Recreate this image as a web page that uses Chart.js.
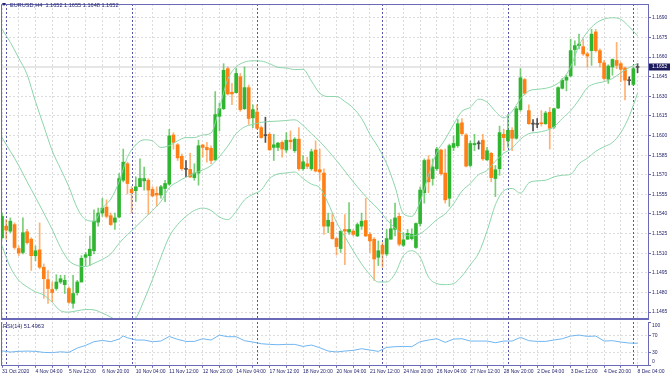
<!DOCTYPE html>
<html><head><meta charset="utf-8">
<script src="https://cdn.jsdelivr.net/npm/chart.js@4.4.1/dist/chart.umd.min.js"></script>
<style>
html,body{margin:0;padding:0;background:#fff;width:670px;height:376px;overflow:hidden;}
#wrap{position:relative;width:670px;height:376px;}
#c1{position:absolute;left:0;top:0;width:670px;height:322px;}
#c2{position:absolute;left:0;top:321px;width:670px;height:55px;}
.lbl{position:absolute;font-family:"Liberation Sans",Arial,sans-serif;font-size:5.6px;color:#24246e;white-space:pre;line-height:1;}
.tri{position:absolute;left:2px;top:3px;width:0;height:0;border-left:2px solid transparent;border-right:2px solid transparent;border-top:3px solid #24246e;}
</style></head><body>
<div id="wrap">
<canvas id="c1" width="670" height="322"></canvas>
<canvas id="c2" width="670" height="55"></canvas>
<div class="tri"></div>
<div class="lbl" id="hdr" style="left:10px;top:3px;"></div>
<div class="lbl" id="rsiHdr" style="left:3px;top:323.5px;"></div>
</div>
<script>
const symbol = "EURUSD,H4";
const xLabels = ["31 Oct 2020","4 Nov 04:00","5 Nov 12:00","6 Nov 20:00","10 Nov 04:00","11 Nov 12:00","12 Nov 20:00","14 Nov 04:00","17 Nov 12:00","18 Nov 20:00","20 Nov 04:00","21 Nov 12:00","24 Nov 20:00","26 Nov 04:00","27 Nov 12:00","28 Nov 20:00","2 Dec 04:00","3 Dec 12:00","4 Dec 20:00","8 Dec 04:00"];
const priceTicks = [1.1465,1.1480,1.1495,1.1510,1.1525,1.1540,1.1555,1.1570,1.1585,1.1600,1.1615,1.1630,1.1645,1.1660,1.1675,1.1690];
const rsiTicks = [0,30,70,100];
const rsiLevels = [30,70];
const separatorBars = [1,31,61,91,121,151];

const opens = [1.15219,1.15307,1.15269,1.15319,1.15136,1.15106,1.15264,1.15207,1.15081,1.15126,
1.14993,1.14898,1.14823,1.14830,1.14880,1.14860,1.14830,1.14717,1.14798,1.14880,
1.15069,1.15081,1.15119,1.15337,1.15407,1.15452,1.15387,1.15337,1.15377,1.15658,
1.15784,1.15588,1.15578,1.15608,1.15653,1.15658,1.15588,1.15558,1.15545,1.15595,
1.15628,1.16004,1.15929,1.15841,1.15746,1.15741,1.15678,1.15713,1.15927,1.15909,
1.15902,1.15814,1.16147,1.16205,1.16511,1.16331,1.16328,1.16449,1.16205,1.16366,
1.16135,1.16180,1.16060,1.15999,1.16009,1.15909,1.15909,1.15947,1.15889,1.15964,
1.15884,1.15972,1.15746,1.15784,1.15746,1.15889,1.15738,1.15713,1.15307,1.15337,
1.15212,1.15136,1.15282,1.15262,1.15269,1.15232,1.15307,1.15350,1.15244,1.15207,
1.15069,1.15161,1.15094,1.15207,1.15282,1.15382,1.15161,1.15207,1.15212,1.15144,
1.15327,1.15563,1.15814,1.15671,1.15746,1.15889,1.15713,1.15520,1.15909,1.15922,
1.16097,1.16004,1.15771,1.15929,1.15937,1.15964,1.15814,1.15864,1.15671,1.15746,
1.16009,1.15959,1.16040,1.15979,1.16198,1.16428,1.16190,1.16090,1.16085,1.16097,
1.16090,1.16178,1.16065,1.16210,1.16361,1.16423,1.16456,1.16657,1.16687,1.16679,
1.16624,1.16649,1.16792,1.16649,1.16556,1.16431,1.16524,1.16574,1.16549,1.16516,
1.16423,1.16391,1.1652];
const highs = [1.15407,1.15357,1.15370,1.15332,1.15156,1.15370,1.15282,1.15219,1.15156,1.15332,
1.15018,1.14968,1.14880,1.14936,1.14931,1.14931,1.14843,1.14931,1.14893,1.15081,
1.15106,1.15232,1.15432,1.15445,1.15520,1.15508,1.15407,1.15407,1.15708,1.15896,
1.15796,1.15608,1.15683,1.15821,1.15759,1.15671,1.15608,1.15608,1.15620,1.15658,
1.16047,1.16022,1.15939,1.15859,1.15809,1.15866,1.15784,1.15964,1.15934,1.15947,
1.15922,1.16336,1.16248,1.16549,1.16524,1.16398,1.16511,1.16474,1.16524,1.16386,
1.16235,1.16235,1.16072,1.16140,1.16022,1.16009,1.15947,1.15959,1.16022,1.16035,
1.15984,1.16060,1.15846,1.15834,1.15896,1.15959,1.15896,1.15746,1.15407,1.15407,
1.15219,1.15269,1.15395,1.15488,1.15282,1.15332,1.15407,1.15520,1.15257,1.15219,
1.15194,1.15181,1.15282,1.15357,1.15483,1.15407,1.15257,1.15282,1.15287,1.15332,
1.15608,1.15821,1.15846,1.15821,1.15909,1.15896,1.15896,1.15934,1.15997,1.16122,
1.16130,1.16014,1.15959,1.16009,1.15959,1.16009,1.15909,1.15871,1.15771,1.16072,
1.16047,1.16160,1.16060,1.16223,1.16511,1.16436,1.16235,1.16122,1.16130,1.16190,
1.16185,1.16215,1.16210,1.16373,1.16436,1.16461,1.16737,1.16724,1.16775,1.16737,
1.16637,1.16812,1.16812,1.16662,1.16574,1.16541,1.16586,1.16712,1.16561,1.16524,
1.16449,1.16524,1.1655];
const lows = [1.15207,1.15207,1.15257,1.15131,1.15081,1.15094,1.15169,1.14968,1.15043,1.14981,
1.14755,1.14717,1.14730,1.14817,1.14868,1.14792,1.14717,1.14680,1.14780,1.14880,
1.15006,1.15006,1.15094,1.15307,1.15382,1.15370,1.15312,1.15282,1.15370,1.15646,
1.15553,1.15407,1.15495,1.15608,1.15583,1.15395,1.15533,1.15458,1.15520,1.15495,
1.15620,1.15896,1.15809,1.15733,1.15683,1.15678,1.15658,1.15620,1.15834,1.15796,
1.15784,1.15809,1.16035,1.16198,1.16310,1.16235,1.16323,1.16185,1.16198,1.16085,
1.16060,1.16047,1.15979,1.15947,1.15884,1.15809,1.15884,1.15834,1.15871,1.15896,
1.15871,1.15733,1.15733,1.15746,1.15733,1.15721,1.15658,1.15244,1.15257,1.15207,
1.15086,1.15106,1.15013,1.15244,1.15232,1.15227,1.15282,1.15227,1.15106,1.14893,
1.15006,1.14993,1.15081,1.15207,1.15232,1.15156,1.15151,1.15207,1.15202,1.15136,
1.15307,1.15483,1.15563,1.15620,1.15733,1.15696,1.15483,1.15458,1.15884,1.15909,
1.16004,1.15759,1.15759,1.15884,1.15896,1.15809,1.15809,1.15646,1.15533,1.15696,
1.15884,1.15909,1.15884,1.15972,1.16185,1.16310,1.16085,1.16035,1.16060,1.16072,
1.16085,1.15896,1.16055,1.16205,1.16356,1.16341,1.16449,1.16536,1.16662,1.16612,
1.16524,1.16536,1.16637,1.16524,1.16423,1.16398,1.16461,1.16511,1.16411,1.16273,
1.16386,1.16381,1.1648];
const closes = [1.15382,1.15277,1.15345,1.15144,1.15101,1.15257,1.15181,1.15081,1.15119,1.14993,
1.14905,1.14830,1.14800,1.14880,1.14905,1.14893,1.14725,1.14792,1.14880,1.15061,
1.15089,1.15131,1.15345,1.15407,1.15445,1.15382,1.15319,1.15370,1.15671,1.15796,
1.15633,1.15563,1.15608,1.15671,1.15671,1.15583,1.15538,1.15545,1.15608,1.15633,
1.15997,1.15947,1.15829,1.15746,1.15741,1.15683,1.15713,1.15922,1.15909,1.15891,
1.15809,1.16160,1.16205,1.16499,1.16318,1.16318,1.16474,1.16198,1.16366,1.16130,
1.16198,1.16055,1.15984,1.16004,1.15891,1.15929,1.15942,1.15896,1.15964,1.15952,
1.15972,1.15746,1.15799,1.15764,1.15876,1.15728,1.15721,1.15307,1.15352,1.15212,
1.15151,1.15269,1.15269,1.15282,1.15244,1.15319,1.15345,1.15232,1.15194,1.15056,
1.15119,1.15094,1.15212,1.15287,1.15370,1.15169,1.15202,1.15252,1.15244,1.15327,
1.15583,1.15809,1.15646,1.15759,1.15896,1.15708,1.15508,1.15922,1.15939,1.16090,
1.16014,1.15766,1.15939,1.15939,1.15937,1.15821,1.15884,1.15678,1.15738,1.16022,
1.15984,1.16040,1.15979,1.16205,1.16441,1.16323,1.16090,1.16087,1.16088,1.16090,
1.16172,1.16055,1.16205,1.16366,1.16423,1.16446,1.16649,1.16687,1.16699,1.16624,
1.16607,1.16775,1.16649,1.16556,1.16436,1.16531,1.16581,1.16536,1.16506,1.16423,
1.16419,1.16511,1.1652];

const bbBars = [0,2,4,6,8,10,12,14,16,18,20,22,24,26,28,30,32,34,36,38,40,42,44,46,48,50,52,54,56,58,60,62,64,66,68,70,72,74,76,78,80,82,84,86,88,90,92,94,96,98,100,102,104,106,108,110,112,114,116,118,120,122,124,126,128,130,132,134,136,138,140,142,144,146,148,150,152];
const bbUpper = [1.16812,1.16712,1.16592,1.16466,1.16260,1.16072,1.15884,1.15746,1.15608,1.15445,
1.15357,1.15345,1.15445,1.15513,1.15646,1.15834,1.15929,1.15967,1.15959,1.15909,
1.15922,1.15959,1.15984,1.15984,1.16004,1.16019,1.16210,1.16431,1.16524,1.16561,
1.16571,1.16569,1.16549,1.16521,1.16516,1.16504,1.16506,1.16416,1.16323,1.16298,
1.16298,1.16260,1.16210,1.16130,1.16009,1.15909,1.15784,1.15608,1.15402,1.15382,
1.15495,1.15696,1.15871,1.15972,1.16085,1.16185,1.16215,1.16278,1.16255,1.16185,
1.16135,1.16185,1.16280,1.16341,1.16353,1.16361,1.16381,1.16428,1.16524,1.16687,
1.16792,1.16857,1.16890,1.16900,1.16888,1.16832,1.16762];
const bbMiddle = [1.15984,1.15879,1.15771,1.15646,1.15528,1.15407,1.15282,1.15144,1.15043,1.15006,
1.14998,1.15023,1.15053,1.15094,1.15176,1.15242,1.15302,1.15365,1.15427,1.15495,
1.15600,1.15646,1.15681,1.15711,1.15736,1.15771,1.15839,1.15919,1.16014,1.16065,
1.16085,1.16100,1.16107,1.16110,1.16115,1.16120,1.16077,1.16014,1.15954,1.15884,
1.15809,1.15728,1.15646,1.15570,1.15500,1.15437,1.15357,1.15292,1.15244,1.15232,
1.15249,1.15299,1.15357,1.15402,1.15478,1.15575,1.15633,1.15701,1.15733,1.15804,
1.15864,1.15904,1.15972,1.16014,1.16024,1.16037,1.16065,1.16130,1.16190,1.16273,
1.16366,1.16398,1.16411,1.16436,1.16479,1.16519,1.16549];
const bbLower = [1.15156,1.14993,1.14893,1.14843,1.14805,1.14780,1.14725,1.14660,1.14650,1.14660,
1.14670,1.14667,1.14642,1.14612,1.14574,1.14566,1.14604,1.14742,1.14900,1.15069,
1.15227,1.15319,1.15382,1.15427,1.15445,1.15427,1.15377,1.15357,1.15420,1.15508,
1.15550,1.15583,1.15671,1.15706,1.15713,1.15721,1.15671,1.15628,1.15600,1.15483,
1.15337,1.15227,1.15119,1.15018,1.14936,1.14880,1.14880,1.14943,1.15081,1.15119,
1.15069,1.14918,1.14868,1.14860,1.14868,1.14926,1.15011,1.15101,1.15269,1.15470,
1.15578,1.15595,1.15558,1.15638,1.15653,1.15658,1.15683,1.15696,1.15703,1.15784,
1.15826,1.15879,1.15914,1.15947,1.16022,1.16147,1.16323];

const rsiBars = [0,2,4,6,8,10,12,14,16,18,20,22,24,26,28,29,30,32,34,36,38,40,42,44,46,48,50,52,54,56,58,60,62,64,66,68,70,72,74,76,78,80,82,84,86,88,90,92,94,96,98,100,102,104,106,108,110,112,114,116,118,120,122,124,126,128,130,132,134,136,138,140,142,144,146,148,150,152];
const rsiVals = [34,31.4,33,33.6,33,30.6,30,32,30.6,40.5,46.6,55,58,55,61,68,64,58.8,58.8,55,56.5,67,60.3,55.7,55.7,61.8,58.8,70,66.4,66.4,57.3,54.2,50.4,48.9,48.1,48.9,48.9,44.3,47.4,41.3,33.7,31.5,33.7,35.2,39,36,32.9,42,43.6,44.3,43.6,55,58.8,61.8,53.5,61,61.8,56.5,56.5,56.5,52.7,56.5,56.5,64.9,57.3,55.7,55.7,58.8,61.8,67.9,70.2,67.2,67.9,56.5,57.3,54.2,51.9,51.4963];

// ---------- styling ----------
const TEXT = '#24246e', AXIS = '#6a6ab8', GRID = '#dcdcdc', SEP = '#5656aa';
const UP = '#2fb52f', DOWN = '#ff7f17', DOJI = '#505050';
const UPW = 'rgba(47,181,47,0.65)', DOWNW = 'rgba(255,127,23,0.6)';
const BAND = '#8dd5aa', RSIC = '#72b6f0';
const FONT = '"Liberation Sans", Arial, sans-serif';
Chart.defaults.font.family = FONT;
Chart.defaults.font.size = 5;
Chart.defaults.color = TEXT;

const N = opens.length;
const kind = opens.map((o,i)=> Math.abs(closes[i]-o) < 0.000065 ? 0 : (closes[i] > o ? 1 : -1));
const bodyColors = kind.map(k => k === 0 ? DOJI : (k > 0 ? UP : DOWN));
const wickColors = kind.map(k => k === 0 ? DOJI : (k > 0 ? UPW : DOWNW));
const gridBars = []; for (let b = 0; b <= 152; b += 4) gridBars.push(b);
const XMIN = -0.24, XMAX = 154.5;

document.getElementById('hdr').textContent = symbol + '  ' + [opens[N-1],highs[N-1],lows[N-1],closes[N-1]].map(v=>v.toFixed(4)).join(' ');
document.getElementById('rsiHdr').textContent = 'RSI(14) ' + rsiVals[rsiVals.length-1].toFixed(4);

function drawSeparators(chart){
  const {ctx, chartArea:a, scales:{x}} = chart;
  ctx.save();
  ctx.beginPath(); ctx.rect(a.left, a.top, a.right-a.left, a.bottom-a.top); ctx.clip();
  ctx.strokeStyle = SEP; ctx.lineWidth = 1; ctx.setLineDash([2,2]);
  separatorBars.forEach(b => {
    const px = Math.round(x.getPixelForValue(b)) + 0.5;
    ctx.beginPath(); ctx.moveTo(px, a.top); ctx.lineTo(px, a.bottom); ctx.stroke();
  });
  ctx.restore();
}

const mainDeco = {
  id: 'mainDeco',
  beforeDatasetsDraw(chart){
    const {ctx, chartArea:a, scales:{y}} = chart;
    const py = Math.round(y.getPixelForValue(closes[N-1]));
    ctx.save(); ctx.fillStyle = '#e6e6e6';
    ctx.fillRect(a.left, py - 1, a.right - a.left, 2); ctx.restore();
    drawSeparators(chart);
  },
  afterDraw(chart){
    const {ctx, chartArea:a, scales:{y}} = chart;
    ctx.save();
    ctx.strokeStyle = AXIS; ctx.lineWidth = 1;
    ctx.beginPath(); ctx.moveTo(a.left+0.5, a.bottom); ctx.lineTo(a.left+0.5, a.top+0.5); ctx.lineTo(a.right, a.top+0.5); ctx.stroke();
    ctx.fillStyle = AXIS; ctx.fillRect(a.left, a.bottom, a.right - a.left + 1, 2);
    const last = closes[N-1];
    const py = Math.round(y.getPixelForValue(last));
    ctx.fillStyle = '#1c1c5c'; ctx.fillRect(a.right+1, py-3.5, 22, 7);
    ctx.fillStyle = '#ffffff'; ctx.font = '5px ' + FONT; ctx.textBaseline = 'middle'; ctx.textAlign = 'left';
    ctx.fillText(last.toFixed(4), a.right+4, py);
    ctx.restore();
  }
};

const rsiDeco = {
  id: 'rsiDeco',
  beforeDatasetsDraw(chart){ drawSeparators(chart); },
  afterDraw(chart){
    const {ctx, chartArea:a, scales:{y}} = chart;
    ctx.save();
    ctx.strokeStyle = AXIS; ctx.lineWidth = 1;
    ctx.beginPath(); ctx.moveTo(a.left+0.5, a.top); ctx.lineTo(a.left+0.5, a.bottom); ctx.stroke();
    ctx.fillStyle = TEXT; ctx.font = '5px ' + FONT; ctx.textBaseline = 'middle'; ctx.textAlign = 'left';
    rsiTicks.forEach(v => {
      let py = y.getPixelForValue(v);
      py = Math.min(Math.max(py, a.top + 3.5), a.bottom - 4);
      ctx.fillText(String(v), a.right + 4, py);
    });
    ctx.restore();
  }
};

const xMain = {
  type: 'linear', min: XMIN, max: XMAX, offset: false,
  afterBuildTicks: s => { s.ticks = gridBars.map(v => ({value: v})); },
  afterFit: s => { s.height = 0; },
  ticks: {display: false},
  grid: {color: GRID, offset: false, drawTicks: false, lineWidth: 1},
  border: {display: false, dash: [2,2]}
};

new Chart(document.getElementById('c1'), {
  type: 'bar',
  data: {
    datasets: [
      {type: 'bar', label: 'wick', data: opens.map((o,i)=>({x: i, y: [lows[i], highs[i]]})),
       backgroundColor: wickColors, barThickness: 1, grouped: false, order: 3},
      {type: 'bar', label: 'body', data: opens.map((o,i)=>({x: i, y: [o, closes[i]]})),
       backgroundColor: bodyColors, barThickness: 3, minBarLength: 1, grouped: false, order: 2},
      {type: 'line', label: 'upper', data: bbBars.map((b,i)=>({x: b, y: bbUpper[i]})),
       borderColor: BAND, borderWidth: 1, pointRadius: 0, cubicInterpolationMode: 'monotone', order: 1},
      {type: 'line', label: 'middle', data: bbBars.map((b,i)=>({x: b, y: bbMiddle[i]})),
       borderColor: BAND, borderWidth: 1, pointRadius: 0, cubicInterpolationMode: 'monotone', order: 1},
      {type: 'line', label: 'lower', data: bbBars.map((b,i)=>({x: b, y: bbLower[i]})),
       borderColor: BAND, borderWidth: 1, pointRadius: 0, cubicInterpolationMode: 'monotone', order: 1}
    ]
  },
  options: {
    responsive: false, animation: false, events: [],
    layout: {padding: {left: 1, top: 1, right: 0, bottom: 2}},
    plugins: {legend: {display: false}, tooltip: {enabled: false}},
    scales: {
      x: xMain,
      y: {
        position: 'right', min: 1.146048, max: 1.170054,
        afterBuildTicks: s => { s.ticks = priceTicks.map(v => ({value: v})); },
        afterFit: s => { s.width = 22; },
        ticks: {callback: v => v.toFixed(4), padding: 1, color: TEXT, font: {size: 5}},
        grid: {color: GRID, tickColor: AXIS, tickLength: 3, lineWidth: 1},
        border: {display: true, color: AXIS, width: 1, dash: [2,2]}
      }
    }
  },
  plugins: [mainDeco]
});

new Chart(document.getElementById('c2'), {
  type: 'line',
  data: {
    datasets: [
      {label: 'RSI', data: rsiBars.map((b,i)=>({x: b, y: rsiVals[i]})),
       borderColor: RSIC, borderWidth: 1, pointRadius: 0, tension: 0}
    ]
  },
  options: {
    responsive: false, animation: false, events: [],
    layout: {padding: {left: 1, top: 1, right: 0, bottom: 0}},
    plugins: {legend: {display: false}, tooltip: {enabled: false}},
    scales: {
      x: {
        type: 'linear', min: XMIN, max: XMAX, offset: false,
        afterBuildTicks: s => { s.ticks = gridBars.map(v => ({value: v})); },
        afterFit: s => { s.height = 10.2; },
        ticks: {autoSkip: false, maxRotation: 0, minRotation: 0, align: 'start', padding: 1, color: TEXT, font: {size: 5},
                callback: v => (v % 8 === 0 ? xLabels[v / 8] : '')},
        grid: {color: GRID, tickColor: AXIS, tickLength: 2, offset: false},
        border: {display: true, color: AXIS, width: 1, dash: [2,2]}
      },
      y: {
        position: 'right', min: 0, max: 100,
        afterBuildTicks: s => { s.ticks = rsiTicks.map(v => ({value: v})); },
        afterFit: s => { s.width = 22; },
        ticks: {display: false},
        grid: {color: c => (rsiLevels.includes(c.tick && c.tick.value) ? GRID : 'rgba(0,0,0,0)'), tickColor: AXIS, tickLength: 3},
        border: {display: true, color: AXIS, width: 1, dash: [2,2]}
      }
    }
  },
  plugins: [rsiDeco]
});
</script>
</body></html>
